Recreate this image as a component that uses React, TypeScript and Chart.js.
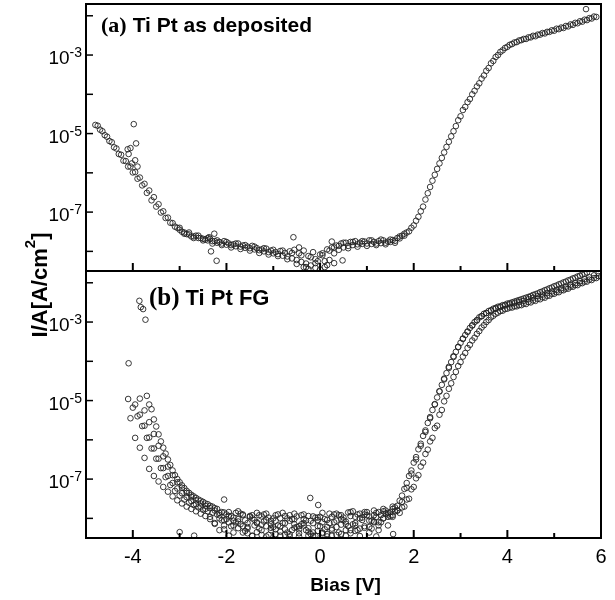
import { useEffect, useRef } from 'react';
import { Chart, registerables } from 'chart.js';

Chart.register(...registerables);

// Bias grid (V), step 0.1 V, and half-step grid used by the interleaved sweeps
const V_FULL = [-4.8,-4.7,-4.6,-4.5,-4.4,-4.3,-4.2,-4.1,-4.0,-3.9,-3.8,-3.7,-3.6,-3.5,-3.4,-3.3,-3.2,-3.1,-3.0,-2.9,-2.8,-2.7,-2.6,-2.5,-2.4,-2.3,-2.2,-2.1,-2.0,-1.9,-1.8,-1.7,-1.6,-1.5,-1.4,-1.3,-1.2,-1.1,-1.0,-0.9,-0.8,-0.7,-0.6,-0.5,-0.4,-0.3,-0.2,-0.1,0,0.1,0.2,0.3,0.4,0.5,0.6,0.7,0.8,0.9,1.0,1.1,1.2,1.3,1.4,1.5,1.6,1.7,1.8,1.9,2.0,2.1,2.2,2.3,2.4,2.5,2.6,2.7,2.8,2.9,3.0,3.1,3.2,3.3,3.4,3.5,3.6,3.7,3.8,3.9,4.0,4.1,4.2,4.3,4.4,4.5,4.6,4.7,4.8,4.9,5.0,5.1,5.2,5.3,5.4,5.5,5.6,5.7,5.8,5.9,6.0];
const V_HALF = [-4.75,-4.65,-4.55,-4.45,-4.35,-4.25,-4.15,-4.05,-3.95,-3.85,-3.75,-3.65,-3.55,-3.45,-3.35,-3.25,-3.15,-3.05,-2.95,-2.85,-2.75,-2.65,-2.55,-2.45,-2.35,-2.25,-2.15,-2.05,-1.95,-1.85,-1.75,-1.65,-1.55,-1.45,-1.35,-1.25,-1.15,-1.05,-0.95,-0.85,-0.75,-0.65,-0.55,-0.45,-0.35,-0.25,-0.15,-0.05,0.05,0.15,0.25,0.35,0.45,0.55,0.65,0.75,0.85,0.95,1.05,1.15,1.25,1.35,1.45,1.55,1.65,1.75,1.85,1.95,2.05,2.15,2.25,2.35,2.45,2.55,2.65,2.75,2.85,2.95,3.05,3.15,3.25,3.35,3.45,3.55,3.65,3.75,3.85,3.95,4.05,4.15,4.25,4.35,4.45,4.55,4.65,4.75,4.85,4.95,5.05,5.15,5.25,5.35,5.45,5.55,5.65,5.75,5.85,5.95];

// log10 of current density (A/cm^2)
// (a) Ti Pt as deposited
const A1_START = -4.8;
const A1_LOG = [-4.78,-4.90,-5.04,-5.19,-5.35,-5.52,-5.69,-5.84,-5.99,-6.15,-6.32,-6.51,-6.70,-6.86,-7.01,-7.15,-7.27,-7.37,-7.45,-7.52,-7.57,-7.62,-7.66,-7.68,-7.72,-7.74,-7.78,-7.80,-7.83,-7.84,-7.87,-7.88,-7.91,-7.92,-7.95,-7.97,-8.00,-8.02,-8.05,-8.07,-8.11,-8.13,-8.18,-8.22,-8.27,-8.31,-8.36,-8.42,-8.46,-8.40,-8.22,-8.05,-7.96,-7.90,-7.86,-7.84,-7.82,-7.81,-7.80,-7.81,-7.80,-7.79,-7.78,-7.76,-7.73,-7.67,-7.60,-7.49,-7.34,-7.12,-6.86,-6.52,-6.20,-5.90,-5.62,-5.34,-5.07,-4.81,-4.56,-4.32,-4.12,-3.91,-3.72,-3.52,-3.33,-3.15,-3.00,-2.88,-2.79,-2.72,-2.67,-2.62,-2.59,-2.55,-2.52,-2.48,-2.45,-2.41,-2.38,-2.34,-2.31,-2.27,-2.23,-2.19,-2.15,-2.11,-2.07,-2.03];
const A2_START = -4.75;
const A2_LOG = [-4.80,-4.94,-5.08,-5.22,-5.38,-5.54,-5.70,-5.84,-5.98,-6.12,-6.28,-6.45,-6.62,-6.80,-6.98,-7.14,-7.28,-7.40,-7.50,-7.56,-7.62,-7.60,-7.66,-7.70,-7.68,-7.74,-7.76,-7.74,-7.80,-7.82,-7.80,-7.85,-7.88,-7.86,-7.92,-7.95,-7.93,-7.98,-8.02,-7.99,-8.04,-8.00,-7.96,-8.05,-7.98,-8.12,-8.02,-8.25,-8.10,-7.95,-7.90,-7.85,-7.80,-7.78,-7.76,-7.74,-7.78,-7.75,-7.72,-7.76,-7.74,-7.72,-7.75,-7.71,-7.66,-7.60,-7.52,-7.40,-7.22,-6.98,-6.68,-6.36,-6.05,-5.76,-5.48,-5.21,-4.94,-4.66,-4.40,-4.20,-4.00,-3.80,-3.60,-3.40,-3.21,-3.05,-2.92,-2.82,-2.74,-2.68,-2.63,-2.59,-2.55,-2.51,-2.48,-2.44,-2.41,-2.37,-2.33,-2.30,-2.26,-2.22,-2.18,-2.14,-2.10,-2.06,-2.02];
const A3_START = -3.0;
const A3_LOG = [-7.40,-7.55,-7.52,-7.66,-7.60,-7.72,-7.66,-7.80,-7.72,-7.84,-7.76,-7.90,-7.80,-7.94,-7.84,-7.98,-7.88,-8.04,-7.92,-8.08,-7.96,-8.12,-7.98,-8.20,-8.04,-8.32,-8.10,-8.40,-8.15,-8.30,-8.08,-8.25,-7.98,-7.90,-7.86,-7.78,-7.92,-7.76,-7.88,-7.74,-7.86,-7.72,-7.84,-7.70,-7.82,-7.70,-7.78,-7.62,-7.55];
const A_OUT_V = [-3.98,-3.93,-4.11,-4.05,-4.09,-4.02,-3.90,-3.95,-2.37,-2.26,-2.33,-2.21,-0.57,0.48,-0.35,-0.10,0.15,0.05,-0.25,0.25,0.30,-0.45,5.68];
const A_OUT_LOG = [-4.76,-5.25,-5.40,-5.37,-5.52,-5.76,-5.84,-5.68,-7.64,-7.55,-8.00,-8.24,-7.64,-8.23,-8.40,-8.20,-8.35,-8.05,-8.45,-7.75,-8.30,-7.90,-1.83];

// (b) Ti Pt FG – several sweeps
const B1_START = -4.1;
const B1_LOG = [-4.96,-5.18,-5.40,-5.65,-5.95,-6.22,-6.48,-6.72,-6.95,-7.15,-7.30,-7.42,-7.52,-7.60,-7.66,-7.72,-7.78,-7.82,-7.86,-7.90,-7.84,-8.02,-7.94,-8.10,-7.88,-8.05,-7.96,-8.18,-7.92,-8.08,-7.98,-8.22,-7.90,-8.12,-8.00,-8.30,-7.95,-8.15,-8.05,-8.40,-7.98,-8.20,-8.02,-7.88,-8.10,-7.92,-8.05,-7.85,-8.15,-7.90,-7.98,-7.84,-8.06,-7.86,-7.92,-7.80,-7.84,-7.72,-7.55,-7.25,-6.92,-6.58,-6.24,-5.90,-5.57,-5.24,-4.92,-4.60,-4.30,-4.02,-3.76,-3.53,-3.33,-3.15,-3.00,-2.88,-2.79,-2.72,-2.66,-2.61,-2.57,-2.53,-2.50,-2.46,-2.42,-2.38,-2.34,-2.29,-2.24,-2.19,-2.14,-2.09,-2.04,-1.99,-1.94,-1.89,-1.84,-1.79,-1.74];
const B2_START = -3.85;
const B2_LOG = [-4.95,-5.25,-5.55,-5.85,-6.15,-6.42,-6.68,-6.90,-7.08,-7.22,-7.35,-7.45,-7.54,-7.62,-7.68,-7.74,-7.80,-7.92,-7.85,-8.10,-7.98,-8.25,-7.90,-8.12,-8.00,-8.35,-7.95,-8.20,-8.06,-8.40,-8.00,-8.28,-7.92,-8.15,-8.38,-8.02,-8.25,-7.95,-8.32,-8.10,-8.40,-7.96,-8.22,-8.02,-8.30,-7.94,-8.12,-7.88,-8.20,-7.95,-8.08,-7.84,-8.00,-7.86,-7.92,-7.80,-7.58,-7.22,-6.86,-6.50,-6.15,-5.80,-5.45,-5.10,-4.76,-4.44,-4.14,-3.87,-3.63,-3.42,-3.24,-3.08,-2.95,-2.85,-2.77,-2.71,-2.66,-2.62,-2.58,-2.55,-2.52,-2.49,-2.46,-2.42,-2.38,-2.34,-2.30,-2.26,-2.22,-2.18,-2.14,-2.10,-2.05,-2.01,-1.96,-1.91,-1.86,-1.81,-1.76];
const B3_START = -3.7;
const B3_LOG = [-4.88,-5.22,-5.66,-6.04,-6.35,-6.64,-6.90,-7.08,-7.23,-7.35,-7.44,-7.52,-7.58,-7.64,-7.70,-7.76,-8.05,-7.90,-8.20,-7.86,-8.15,-8.32,-7.94,-8.04,-8.26,-7.90,-8.42,-8.00,-8.18,-7.86,-8.36,-8.02,-8.22,-7.92,-8.30,-8.06,-8.44,-7.96,-8.28,-8.12,-7.90,-8.36,-7.98,-8.20,-7.82,-8.30,-8.04,-7.92,-8.26,-7.96,-8.10,-7.88,-7.95,-7.82,-7.86,-7.70,-7.50,-7.20,-6.90,-6.58,-6.25,-5.95,-5.64,-5.24,-4.88,-4.56,-4.27,-4.02,-3.79,-3.58,-3.40,-3.23,-3.08,-2.95,-2.84,-2.76,-2.71,-2.66,-2.63,-2.60,-2.57,-2.54,-2.50,-2.46,-2.42,-2.38,-2.33,-2.28,-2.24,-2.19,-2.15,-2.10,-2.06,-2.01,-1.97,-1.93,-1.88,-1.84];
const B4_START = -4.05;
const B4_LOG = [-5.45,-5.95,-6.20,-6.46,-6.74,-6.92,-7.06,-7.20,-7.32,-7.44,-7.54,-7.62,-7.70,-7.76,-7.82,-7.88,-7.94,-8.02,-8.12,-8.30,-8.05,-8.44,-8.18,-8.02,-8.36,-8.22,-8.45,-8.10,-8.30,-8.46,-8.15,-8.28,-8.44,-8.12,-8.40,-8.24,-8.46,-8.18,-8.34,-8.45,-8.20,-8.38,-8.46,-8.26,-8.42,-8.16,-8.44,-8.30,-8.18,-8.45,-8.24,-8.36,-8.10,-8.30,-8.00,-8.18,-7.96];
const B5_START = -3.95;
const B5_LOG = [-5.10,-5.36,-5.64,-5.94,-6.22,-6.48,-6.72,-6.92,-7.10,-7.24,-7.36,-7.46,-7.56,-7.64,-7.70,-7.76,-7.96,-8.14,-7.86,-8.28,-7.94,-8.06,-7.82,-8.20,-8.38,-7.92,-8.12,-8.42,-7.88,-8.24,-8.06,-8.34,-7.94,-8.46,-8.02,-8.20,-7.90,-8.44,-8.12,-7.98,-8.36,-8.04,-8.30,-7.88,-8.40,-8.08,-7.84,-8.32,-8.00,-7.90,-8.22,-7.80,-8.10,-7.76,-7.96,-7.70,-7.68,-7.42,-7.10,-6.78,-6.44,-6.10,-5.76,-5.42,-5.09,-4.77,-4.46,-4.17,-3.89,-3.64,-3.43,-3.25,-3.09,-2.96,-2.85,-2.77,-2.70,-2.64,-2.60,-2.56,-2.52,-2.48,-2.44,-2.40,-2.36,-2.31,-2.27,-2.22,-2.17,-2.12,-2.07,-2.02,-1.97,-1.92,-1.87,-1.82,-1.77];
const B6_START = -3.65;
const B6_LOG = [-5.10,-5.48,-5.86,-6.20,-6.50,-6.78,-7.00,-7.16,-7.30,-7.40,-7.48,-7.55,-7.62,-7.68,-7.74,-8.00,-8.18,-7.84,-8.36,-8.08,-7.92,-8.26,-8.44,-7.86,-8.16,-8.04,-8.30,-7.92,-8.20,-8.42,-8.06,-7.88,-8.28,-8.12,-7.94,-8.36,-8.04,-7.86,-8.22,-8.44,-8.06,-7.92,-8.14,-8.38,-7.96,-8.26,-7.84,-8.06,-7.92,-8.18,-7.82,-7.90,-7.76,-7.80,-7.72,-7.52,-7.26,-6.98,-6.68,-6.36,-6.04,-5.70,-5.36,-5.02,-4.70,-4.40,-4.12,-3.88,-3.66,-3.47,-3.30,-3.14,-3.00,-2.88,-2.79,-2.72,-2.67,-2.63,-2.60,-2.57,-2.53,-2.49,-2.45,-2.41,-2.37,-2.33,-2.28,-2.24,-2.19,-2.15,-2.10,-2.06,-2.01,-1.97,-1.92,-1.88,-1.83];
const B_OUT_V = [-3.86,-3.83,-3.78,-3.73,-4.09,-2.05,-0.21,-0.04,-2.69,1.56,1.20,-3.00];
const B_OUT_LOG = [-2.46,-2.62,-2.67,-2.94,-4.05,-7.52,-7.48,-7.66,-8.44,-8.40,-8.46,-8.35];

// axes
const X_MIN = -5;
const X_MAX = 6;
const X_TICKS = [-4,-3,-2,-1,0,1,2,3,4,5];
const X_LABELS = [-4,-2,0,2,4,6];
const Y_MIN_EXP = -8.5;
const Y_MAX_EXP = -1.7;
const Y_TICK_EXP = [-2,-3,-4,-5,-6,-7,-8];
const Y_LABEL_EXP = [-3,-5,-7];

const PANEL_A = ['(a)', 'Ti Pt as deposited'];
const PANEL_B = ['(b)', 'Ti Pt FG'];
const X_TITLE = 'Bias [V]';

function sweep(grid: number[], startV: number, logs: number[]) {
  const i0 = grid.findIndex((v) => Math.abs(v - startV) < 1e-6);
  return logs.map((l, i) => ({ x: grid[i0 + i], y: Math.pow(10, l) }));
}
function pairs(vs: number[], logs: number[]) {
  return vs.map((v, i) => ({ x: v, y: Math.pow(10, logs[i]) }));
}

const SANS = '"Liberation Sans", Arial, sans-serif';
const SERIF = '"Liberation Serif", "Times New Roman", serif';

const decor = {
  id: 'decor',
  beforeDraw(chart: any) {
    const ctx = chart.ctx;
    ctx.save();
    ctx.fillStyle = '#fff';
    ctx.fillRect(0, 0, chart.width, chart.height);
    ctx.restore();
  },
  afterDraw(chart: any) {
    const ctx = chart.ctx as CanvasRenderingContext2D;
    const xs = chart.scales.x;
    const ya = chart.scales.ya;
    const yb = chart.scales.yb;
    ctx.save();
    ctx.strokeStyle = '#000';
    ctx.fillStyle = '#000';
    [ya, yb].forEach((ys: any) => {
      ctx.lineWidth = 2;
      ctx.strokeRect(xs.left, ys.top, xs.right - xs.left, ys.bottom - ys.top);
      ctx.lineWidth = 1.5;
      Y_TICK_EXP.forEach((e) => {
        const py = ys.getPixelForValue(Math.pow(10, e));
        ctx.beginPath();
        ctx.moveTo(xs.left, py);
        ctx.lineTo(xs.left + 7, py);
        ctx.stroke();
        if (Y_LABEL_EXP.includes(e)) {
          ctx.textBaseline = 'alphabetic';
          ctx.textAlign = 'right';
          ctx.font = `14px ${SANS}`;
          const ex = String(e);
          const w = ctx.measureText(ex).width;
          const xr = xs.left - 4;
          ctx.fillText(ex, xr, py + 2);
          ctx.font = `19px ${SANS}`;
          ctx.fillText('10', xr - w, py + 9);
        }
      });
      ctx.lineWidth = 2;
      X_TICKS.forEach((v) => {
        const px = xs.getPixelForValue(v);
        const len = v % 2 === 0 ? 8 : 5;
        ctx.beginPath();
        ctx.moveTo(px, ys.bottom);
        ctx.lineTo(px, ys.bottom - len);
        ctx.stroke();
      });
    });
    ctx.textAlign = 'center';
    ctx.textBaseline = 'alphabetic';
    ctx.font = `20px ${SANS}`;
    X_LABELS.forEach((v) => {
      ctx.fillText(String(v), xs.getPixelForValue(v), yb.bottom + 25);
    });
    ctx.font = `bold 19px ${SANS}`;
    ctx.fillText(X_TITLE, (xs.left + xs.right) / 2 + 2, yb.bottom + 53);

    const drawPanel = (lab: string[], x: number, y: number, serifSize: number, sansSize: number) => {
      ctx.textAlign = 'left';
      ctx.font = `bold ${serifSize}px ${SERIF}`;
      ctx.fillText(lab[0], x, y);
      const w = ctx.measureText(lab[0]).width;
      ctx.font = `bold ${sansSize}px ${SANS}`;
      ctx.fillText(lab[1], x + w + 6, y);
    };
    drawPanel(PANEL_A, xs.left + 15, ya.top + 28, 22, 21);
    drawPanel(PANEL_B, xs.left + 63, yb.top + 34, 25, 22);

    ctx.save();
    ctx.translate(47, (ya.top + yb.bottom) / 2 + 14);
    ctx.rotate(-Math.PI / 2);
    ctx.textAlign = 'left';
    const mainFont = `bold 22px ${SANS}`;
    const supFont = `bold 15px ${SANS}`;
    ctx.font = mainFont;
    const p1 = 'I/A[A/cm';
    const w1 = ctx.measureText(p1).width;
    const w3 = ctx.measureText(']').width;
    ctx.font = supFont;
    const w2 = ctx.measureText('2').width;
    const total = w1 + w2 + w3;
    let cx = -total / 2;
    ctx.font = mainFont;
    ctx.fillText(p1, cx, 0);
    cx += w1;
    ctx.font = supFont;
    ctx.fillText('2', cx, -12);
    cx += w2;
    ctx.font = mainFont;
    ctx.fillText(']', cx, 0);
    ctx.restore();

    ctx.restore();
  },
};

export default function App() {
  const ref = useRef<HTMLCanvasElement | null>(null);
  useEffect(() => {
    if (!ref.current) return;
    const pointStyle = {
      showLine: false,
      pointRadius: 2.8,
      pointHoverRadius: 2.8,
      pointBorderWidth: 0.9,
      pointBorderColor: '#222222',
      pointBackgroundColor: 'rgba(255,255,255,0)',
      borderColor: '#222222',
      backgroundColor: 'rgba(255,255,255,0)',
    };
    const chart = new Chart(ref.current, {
      type: 'scatter',
      data: {
        datasets: [
          { ...pointStyle, label: 'a1', yAxisID: 'ya', data: sweep(V_FULL, A1_START, A1_LOG) },
          { ...pointStyle, label: 'a2', yAxisID: 'ya', data: sweep(V_HALF, A2_START, A2_LOG) },
          { ...pointStyle, label: 'a3', yAxisID: 'ya', data: sweep(V_FULL, A3_START, A3_LOG) },
          { ...pointStyle, label: 'a-out', yAxisID: 'ya', data: pairs(A_OUT_V, A_OUT_LOG) },
          { ...pointStyle, label: 'b1', yAxisID: 'yb', data: sweep(V_FULL, B1_START, B1_LOG) },
          { ...pointStyle, label: 'b5', yAxisID: 'yb', data: sweep(V_HALF, B5_START, B5_LOG) },
          { ...pointStyle, label: 'b2', yAxisID: 'yb', data: sweep(V_HALF, B2_START, B2_LOG) },
          { ...pointStyle, label: 'b6', yAxisID: 'yb', data: sweep(V_HALF, B6_START, B6_LOG) },
          { ...pointStyle, label: 'b3', yAxisID: 'yb', data: sweep(V_FULL, B3_START, B3_LOG) },
          { ...pointStyle, label: 'b4', yAxisID: 'yb', data: sweep(V_HALF, B4_START, B4_LOG) },
          { ...pointStyle, label: 'b-out', yAxisID: 'yb', data: pairs(B_OUT_V, B_OUT_LOG) },
        ] as any,
      },
      options: {
        responsive: false,
        animation: false,
        devicePixelRatio: 1,
        layout: { padding: { left: 86, right: 14, top: 4, bottom: 62 } },
        plugins: { legend: { display: false }, tooltip: { enabled: false } },
        events: [],
        scales: {
          x: { type: 'linear', min: X_MIN, max: X_MAX, display: false },
          // the stack places the later-defined scale on top: yb (bottom panel) first, ya (top panel) second
          yb: {
            type: 'logarithmic', position: 'left', stack: 'panels', stackWeight: 1,
            min: Math.pow(10, Y_MIN_EXP), max: Math.pow(10, Y_MAX_EXP), display: false,
          },
          ya: {
            type: 'logarithmic', position: 'left', stack: 'panels', stackWeight: 1,
            min: Math.pow(10, Y_MIN_EXP), max: Math.pow(10, Y_MAX_EXP), display: false,
          },
        } as any,
      },
      plugins: [decor],
    });
    return () => chart.destroy();
  }, []);
  return (
    <div style={{ position: 'absolute', left: 0, top: 0, width: 615, height: 600, background: '#fff' }}>
      <canvas ref={ref} width={615} height={600} style={{ display: 'block' }} />
    </div>
  );
}
